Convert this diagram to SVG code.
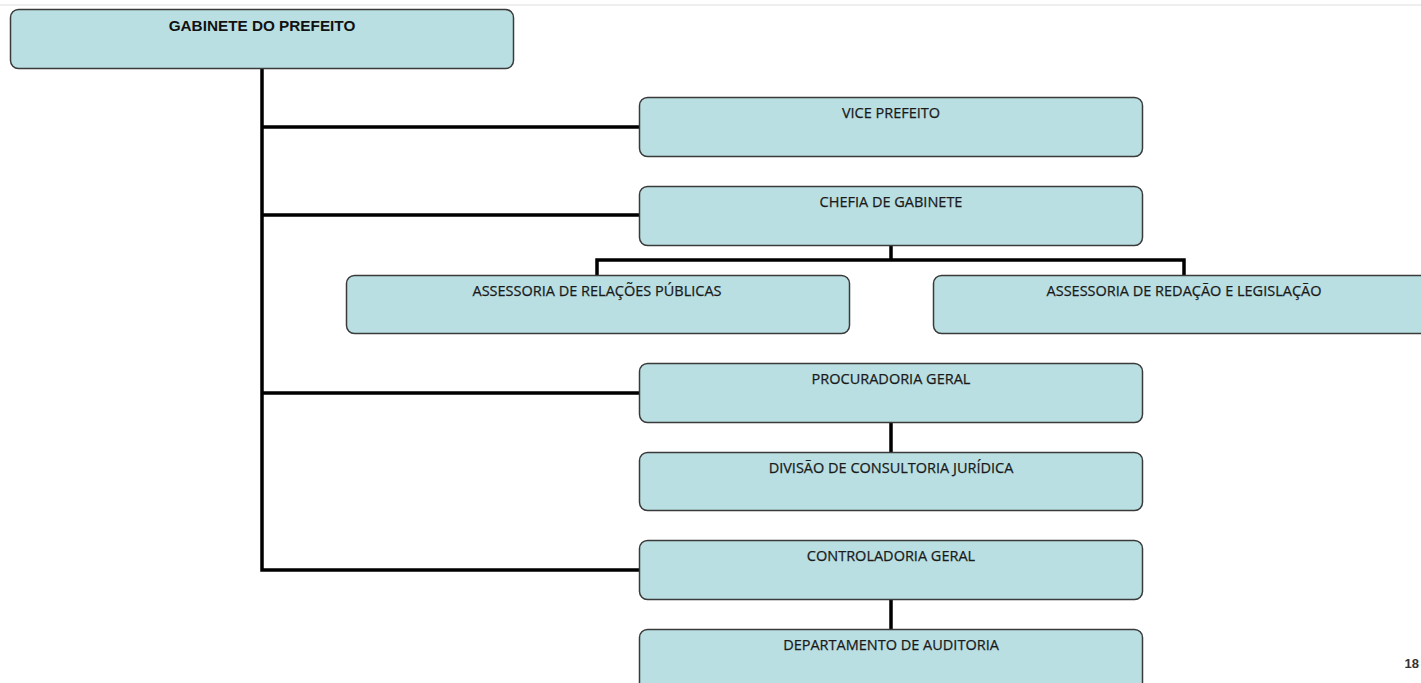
<svg xmlns="http://www.w3.org/2000/svg" width="1421" height="683" viewBox="0 0 1421 683">
<style>
.box{fill:#b9dfe2;stroke:#3a3a3a;stroke-width:1.5}
.t{font-family:"Open Sans","Liberation Sans",sans-serif;font-size:14.5px;fill:#1a1a1a;text-anchor:middle;stroke:#1a1a1a;stroke-width:0.25}
.tb{font-family:"Liberation Sans",sans-serif;font-size:15.3px;font-weight:bold;fill:#111;text-anchor:middle}
.c{fill:none;stroke:#000;stroke-width:3.5;stroke-linejoin:miter}
</style>
<rect x="0" y="0" width="1421" height="683" fill="#fff"/>
<line x1="0" y1="5" x2="1421" y2="5" stroke="#eeeeee" stroke-width="2"/>
<g id="connectors">
<path class="c" d="M262 68 V570 H639 M262 127 H639 M262 215 H639 M262 393 H639"/>
<path class="c" d="M891 245 V260 M597 275 V260 H1184 V275"/>
<path class="c" d="M891 422 V452 M891 599 V629"/>
</g>
<g id="gabinete"><rect class="box" x="10.5" y="9.5" width="503" height="59" rx="8"/><text class="tb" x="262" y="31">GABINETE DO PREFEITO</text></g>
<g id="vice"><rect class="box" x="639.5" y="97.5" width="503" height="59" rx="8"/><text class="t" x="891" y="118">VICE PREFEITO</text></g>
<g id="chefia"><rect class="box" x="639.5" y="186.5" width="503" height="59" rx="8"/><text class="t" x="891" y="207">CHEFIA DE GABINETE</text></g>
<g id="relacoes"><rect class="box" x="346.5" y="275.5" width="503" height="58" rx="8"/><text class="t" x="597" y="296">ASSESSORIA DE RELAÇÕES PÚBLICAS</text></g>
<g id="redacao"><rect class="box" x="933.5" y="275.5" width="503" height="58" rx="8"/><text class="t" x="1184" y="296">ASSESSORIA DE REDAÇÃO E LEGISLAÇÃO</text></g>
<g id="procuradoria"><rect class="box" x="639.5" y="363.5" width="503" height="59" rx="8"/><text class="t" x="891" y="384">PROCURADORIA GERAL</text></g>
<g id="divisao"><rect class="box" x="639.5" y="452.5" width="503" height="58" rx="8"/><text class="t" x="891" y="473">DIVISÃO DE CONSULTORIA JURÍDICA</text></g>
<g id="controladoria"><rect class="box" x="639.5" y="540.5" width="503" height="59" rx="8"/><text class="t" x="891" y="561">CONTROLADORIA GERAL</text></g>
<g id="departamento"><rect class="box" x="639.5" y="629.5" width="503" height="70" rx="8"/><text class="t" x="891" y="650">DEPARTAMENTO DE AUDITORIA</text></g>
<text x="1419" y="668" font-family="Liberation Sans,sans-serif" font-size="13" font-weight="bold" fill="#333" text-anchor="end">18</text>
</svg>
